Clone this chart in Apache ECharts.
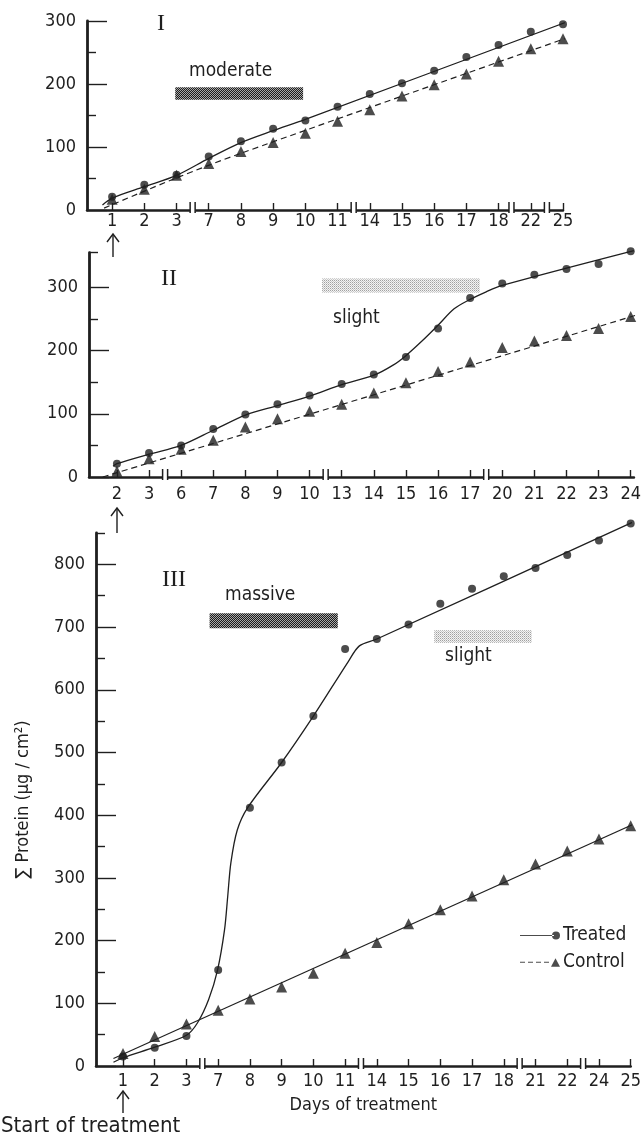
<!DOCTYPE html>
<html>
<head>
<meta charset="utf-8">
<script src="https://cdn.jsdelivr.net/npm/echarts@6/dist/echarts.min.js"></script>
<style>
html,body{margin:0;padding:0;background:#fff;}
#c{width:644px;height:1139px;}
</style>
</head>
<body>
<div id="c"></div>
<script>
// ---------- data ----------
const daysI = ['1','2','3','7','8','9','10','11','14','15','16','17','18','22','25'];
const treatedI = [21,40,56,85,109,129,142,164,184,201,221,243,262,283,295];
const controlI = [17,33,55,74,93,107,122,141,159,181,199,216,236,256,272];
const fitTreatedI = [[-0.3,8],[0,19],[1,37],[2,55],[3,82],[4,107],[5,126],[6,144],[14.3,302]];
const fitControlI = [[-0.25,3],[2,51],[4,90],[14.5,280]];
const breaksI = [2.5,7.5,12.4,13.5];
const barI = [1.96,5.93,175,195];

const daysII = ['2','3','6','7','8','9','10','13','14','15','16','17','20','21','22','23','24'];
const treatedII = [21,38,50,76,99,115,129,147,162,190,235,283,306,320,329,337,357];
const controlII = [9,29,44,58,79,92,104,115,133,149,167,182,205,215,224,235,254];
const fitTreatedII = [[-0.12,17],[0,21],[1,36],[2,50],[3,74],[4,98],[5,113],[6,128],[7,146],[8,161],[8.6,177],[9,192],[9.5,215],[10,240],[10.5,266],[11,281],[11.5,293],[12,303],[16.1,358]];
const fitControlII = [[-0.44,0],[16.3,258]];
const breaksII = [1.5,6.5,11.5];
const barII = [6.39,11.3,292,314];

const daysIII = ['1','2','3','7','8','9','10','11','14','15','16','17','18','21','22','24','25'];
const treatedIII = [15,29,48,153,412,484,558,665,681,704,737,761,781,794,815,838,865];
const controlIII = [20,47,67,89,107,126,148,180,197,227,249,271,297,322,343,362,383];
const fitTreatedIII = [[-0.3,6],[0,13],[1,30],[2,49],[2.35,69],[2.7,106],[2.98,153],[3.2,217],[3.3,270],[3.4,324],[3.6,376],[3.93,412],[5,484],[6,558],[7.1,645],[7.45,670],[8,681],[16.05,867]];
const fitControlIII = [[-0.3,12],[16.1,386]];
const breaksIII = [2.5,7.5,12.5,14.5];
const barIIIa = [2.73,6.77,698,722];
const barIIIb = [9.81,12.88,675,695];

const majorI = [0,100,200,300], minorI = [50,150,250];
const majorII = [0,100,200,300], minorII = [50,150,250,355];
const majorIII = [0,100,200,300,400,500,600,700,800], minorIII = [50,150,250,350,450,550,650,750,850];

// ---------- styling ----------
const TXT = '"Liberation Sans Narrow","DejaVu Sans Condensed","Open Sans",sans-serif';
const INK = '#1f1f1f';

function pattern(kind){
  const c = document.createElement('canvas');
  c.width = 2; c.height = 2;
  const g = c.getContext('2d');
  if (kind === 'dark') {
    g.fillStyle = '#1c1c1c'; g.fillRect(0,0,2,2);
    g.fillStyle = '#a8a8a8'; g.fillRect(0,0,1,1); g.fillRect(1,1,1,1);
  } else {
    g.fillStyle = '#f3f3f3'; g.fillRect(0,0,2,2);
    g.fillStyle = '#a0a0a0'; g.fillRect(0,0,1,1);
    g.fillStyle = '#c8c8c8'; g.fillRect(1,1,1,1);
  }
  return {image: c, repeat: 'repeat'};
}

function xAx(gi, min, max, cats, margin, extra){
  const vals = cats.map((_, i) => i);
  return Object.assign({
    type:'value', gridIndex: gi, min, max,
    axisLine:{show:true, onZero:false, lineStyle:{color:INK, width:2.5}},
    axisTick:{show:true, inside:true, length:7, customValues: vals, lineStyle:{color:INK, width:1.4}},
    axisLabel:{customValues: vals, formatter: v => cats[Math.round(v)] || '', color:INK, fontFamily:TXT, fontSize:18, margin},
    splitLine:{show:false}
  }, extra || {});
}
function yMaj(gi, max, majors, extra){
  return Object.assign({
    type:'value', gridIndex: gi, min:0, max, position:'left', offset:0,
    axisLine:{show:true, onZero:false, lineStyle:{color:INK, width:2.8}},
    axisTick:{show:true, inside:true, length:20, customValues: majors, lineStyle:{color:INK, width:1.4}},
    axisLabel:{customValues: majors, color:INK, fontFamily:TXT, fontSize:18, margin:11},
    splitLine:{show:false}
  }, extra || {});
}
function yMin(gi, max, minors){
  return {
    type:'value', gridIndex: gi, min:0, max, position:'left', offset:0,
    axisLine:{show:false, onZero:false},
    axisTick:{show:true, inside:true, length:9, customValues: minors, lineStyle:{color:INK, width:1.4}},
    axisLabel:{show:false}, splitLine:{show:false}
  };
}

function pts(arr){ return arr.map((v,i)=>[i,v]); }

function panelSeries(k, treated, control, fitT, fitC, breaks, bars, names, dashed){
  const ax = {xAxisIndex:k, yAxisIndex:2*k};
  return [
    Object.assign({type:'line', data: fitT, showSymbol:false, smooth:0.3, clip:false, silent:true,
      lineStyle:{color:INK, width:1.3}, z:3}, ax),
    Object.assign({type:'line', data: fitC, showSymbol:false, smooth:0.3, clip:false, silent:true,
      lineStyle:{color:INK, width:1.2, type: dashed ? [6,4] : 'solid'}, z:3}, ax),
    Object.assign({type:'scatter', name: names[0], data: pts(treated), symbol:'circle', symbolSize:8, clip:false,
      itemStyle:{color:INK}, z:5}, ax),
    Object.assign({type:'scatter', name: names[1], data: pts(control), symbol:'triangle', symbolSize:11, clip:false,
      itemStyle:{color:INK}, z:5}, ax),
    Object.assign({type:'custom', data: breaks.map(b=>[b,0]), clip:false, silent:true, z:6,
      renderItem: (p, api) => {
        const c = api.coord([api.value(0), 0]);
        return {type:'group', children:[
          {type:'rect', shape:{x:c[0]-2.5, y:c[1]-3, width:5, height:6}, style:{fill:'#fff'}},
          {type:'line', shape:{x1:c[0]-2.5, y1:c[1]-8, x2:c[0]-2.5, y2:c[1]+3}, style:{stroke:INK, lineWidth:1.5}},
          {type:'line', shape:{x1:c[0]+2.5, y1:c[1]-8, x2:c[0]+2.5, y2:c[1]+3}, style:{stroke:INK, lineWidth:1.5}}
        ]};
      }}, ax),
    Object.assign({type:'custom', data: bars.map(b=>b.v), clip:false, silent:true, z:2,
      renderItem: (p, api) => {
        const a = api.coord([api.value(0), api.value(3)]);
        const b = api.coord([api.value(1), api.value(2)]);
        return {type:'rect', shape:{x:a[0], y:a[1], width:b[0]-a[0], height:b[1]-a[1]},
          style:{fill: pattern(bars[p.dataIndex].kind)}};
      }}, ax)
  ];
}

const option = {
  backgroundColor:'#fff',
  animation:false,
  grid:[
    {left:87, top:21, width:476, height:189},
    {left:89, top:252.6, width:545, height:224.4},
    {left:96, top:533, width:538, height:533}
  ],
  xAxis:[
    xAx(0, -0.78, 14, daysI, 2),
    xAx(1, -0.87, 16.1, daysII, 8),
    xAx(2, -0.85, 16.0, daysIII, 6, {name:'Days of treatment', nameLocation:'middle', nameGap:30,
      nameTextStyle:{color:INK, fontFamily:TXT, fontSize:18}})
  ],
  yAxis:[
    yMaj(0, 300, majorI), yMin(0, 300, minorI),
    yMaj(1, 355, majorII), yMin(1, 355, minorII),
    yMaj(2, 850, majorIII, {name:'\u2211 Protein (\u00b5g / cm\u00b2)', nameLocation:'middle', nameRotate:90, nameGap:64,
      nameTextStyle:{color:INK, fontFamily:TXT, fontSize:18}}),
    yMin(2, 850, minorIII)
  ],
  legend:{
    orient:'vertical', left:515, top:921, itemWidth:40, itemHeight:10, itemGap:8, selectedMode:false,
    textStyle:{color:INK, fontFamily:TXT, fontSize:19, padding:[0,0,0,-2]},
    data:[
      {name:'Treated', icon:'path://M0,4.4H34V5.6H0Z M32,5A4,4,0,1,0,40,5A4,4,0,1,0,32,5Z'},
      {name:'Control', icon:'path://M0,4.4h5v1.2h-5z M8,4.4h5v1.2h-5z M16,4.4h5v1.2h-5z M24,4.4h5v1.2h-5z M31,9.5L35.5,1L40,9.5Z'}
    ]
  },
  series:[
    ...panelSeries(0, treatedI, controlI, fitTreatedI, fitControlI, breaksI,
      [{v:barI, kind:'dark'}], ['Treated I','Control I'], true),
    ...panelSeries(1, treatedII, controlII, fitTreatedII, fitControlII, breaksII,
      [{v:barII, kind:'light'}], ['Treated II','Control II'], true),
    ...panelSeries(2, treatedIII, controlIII, fitTreatedIII, fitControlIII, breaksIII,
      [{v:barIIIa, kind:'dark'}, {v:barIIIb, kind:'light'}], ['Treated','Control'], false)
  ],
  graphic:[
    {type:'text', left:157, top:12, style:{text:'I', font:'24px "Liberation Serif","DejaVu Serif",serif', fill:INK}},
    {type:'text', left:161, top:267, style:{text:'II', font:'24px "Liberation Serif","DejaVu Serif",serif', fill:INK}},
    {type:'text', left:162, top:568, style:{text:'III', font:'24px "Liberation Serif","DejaVu Serif",serif', fill:INK}},
    {type:'text', left:189, top:62, style:{text:'moderate', font:'19px ' + TXT, fill:INK}},
    {type:'text', left:333, top:309, style:{text:'slight', font:'19px ' + TXT, fill:INK}},
    {type:'text', left:225, top:586, style:{text:'massive', font:'19px ' + TXT, fill:INK}},
    {type:'text', left:445, top:647, style:{text:'slight', font:'19px ' + TXT, fill:INK}},
    {type:'text', left:1, top:1115, style:{text:'Start of treatment', font:'22px ' + TXT, fill:INK}},
    {type:'group', children:[
      {type:'polyline', shape:{points:[[113,257],[113,234]]}, style:{stroke:INK, lineWidth:1.4}},
      {type:'polyline', shape:{points:[[107,242],[113,234],[119,242]]}, style:{stroke:INK, lineWidth:1.4, fill:null}},
      {type:'polyline', shape:{points:[[117,533],[117,508]]}, style:{stroke:INK, lineWidth:1.4}},
      {type:'polyline', shape:{points:[[111,516],[117,508],[123,516]]}, style:{stroke:INK, lineWidth:1.4, fill:null}},
      {type:'polyline', shape:{points:[[123,1113],[123,1091]]}, style:{stroke:INK, lineWidth:1.4}},
      {type:'polyline', shape:{points:[[117,1099],[123,1091],[129,1099]]}, style:{stroke:INK, lineWidth:1.4, fill:null}}
    ]}
  ]
};

const chart = echarts.init(document.getElementById('c'), null, {renderer:'canvas'});
chart.setOption(option);
</script>
</body>
</html>
